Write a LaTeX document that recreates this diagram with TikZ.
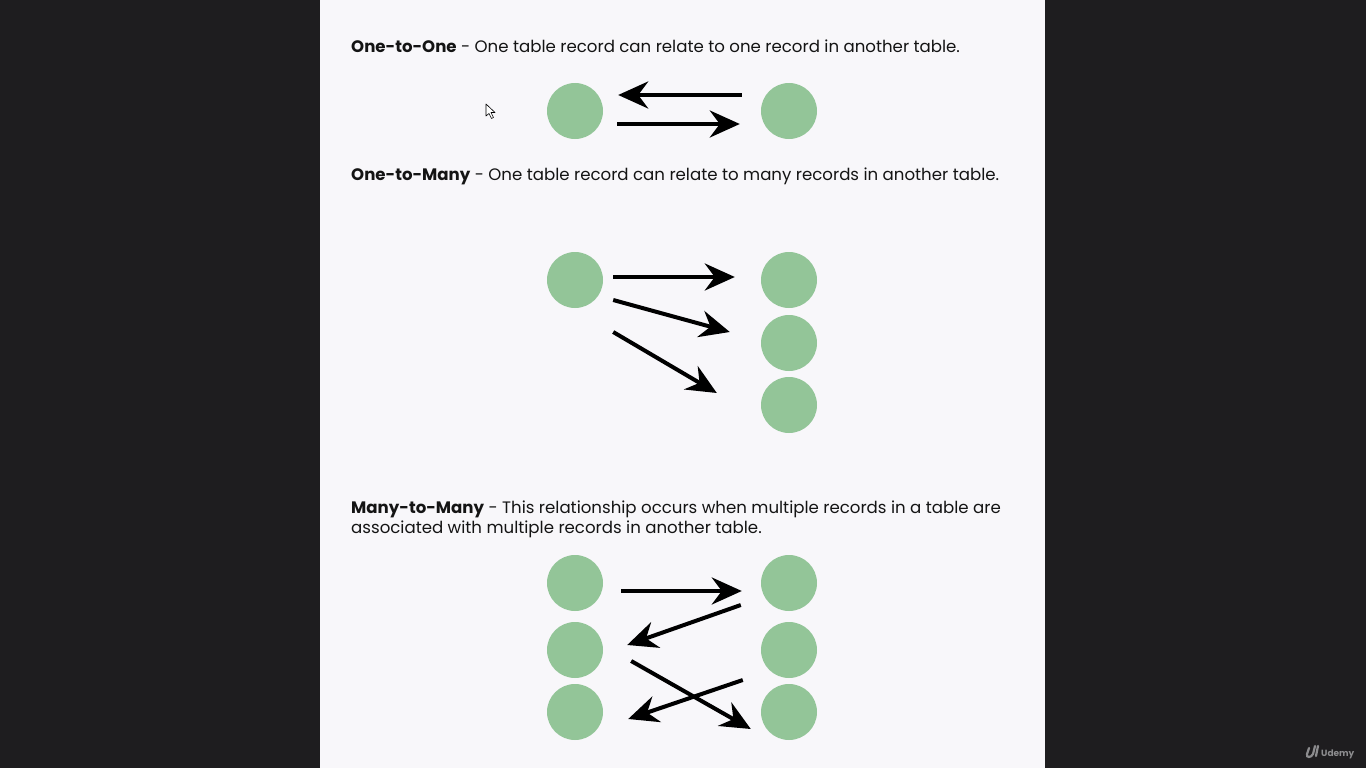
\documentclass[tikz,border=0pt]{standalone}
\usepackage{fontspec}
\setmainfont{Poppins}
\usetikzlibrary{arrows.meta,calc}
\definecolor{screenbg}{HTML}{1E1D1F}
\definecolor{pagebg}{HTML}{F8F7FA}
\definecolor{recgreen}{HTML}{93C598}
\definecolor{logogray}{HTML}{8C8C8E}
\begin{document}
\begin{tikzpicture}[x=1pt,y=-1pt,
  record/.style={circle, fill=recgreen, minimum size=56pt, inner sep=0pt},
  rel/.style={line width=4pt, -{Stealth[length=30pt,width=27pt,inset=10pt]}},
  heading/.style={anchor=base west, inner sep=0pt, text=black!92,
    font=\fontsize{16.6}{20}\selectfont}]
  % Screen and page
  \fill[screenbg] (0,0) rectangle (1366,768);
  \fill[pagebg] (320,0) rectangle (1045,768);
  \useasboundingbox (0,0) rectangle (1366,768);

  % One-to-One
  \node[heading] (oneone) at (351,53) {\textbf{One-to-One} - One table record can relate to one record in another table.};
  \node[record] (ooleft) at (575,111) {};
  \node[record] (ooright) at (789,111) {};
  \draw[rel] ($(ooright.west)+(-19,-16)$) -- ($(ooleft.east)+(15,-16)$);
  \draw[rel] ($(ooleft.east)+(14,13)$) -- ($(ooright.west)+(-21,13)$);

  % One-to-Many
  \node[heading] (onemany) at (351,180) {\textbf{One-to-Many} - One table record can relate to many records in another table.};
  \node[record] (omleft) at (575,280) {};
  \foreach \name/\y in {omra/280, omrb/343, omrc/405}
    \node[record] (\name) at (789,\y) {};
  \draw[rel] ($(omleft.east)+(10,-3)$) -- ($(omra.west)+(-26,-3)$);
  \draw[rel] ($(omleft.east)+(10,20)$) -- ($(omra.west)+(-31,52)$);
  \draw[rel] ($(omleft.east)+(10,52)$) -- ($(omra.west)+(-44,113)$);

  % Many-to-Many
  \node[heading] (manymany) at (351,513.5) {\textbf{Many-to-Many} - This relationship occurs when multiple records in a table are};
  \node[heading] (manymanyb) at (351,533) {associated with multiple records in another table.};
  \foreach \name/\x/\y in {mmla/575/583, mmlb/575/650, mmlc/575/712,
                           mmra/789/583, mmrb/789/650, mmrc/789/712}
    \node[record] (\name) at (\x,\y) {};
  \draw[rel] ($(mmla.east)+(18,8)$) -- ($(mmra.west)+(-19,8)$);
  \draw[rel] ($(mmra.west)+(-20,22)$) -- ($(mmlb.east)+(24,-5)$);
  \draw[rel] ($(mmlb.east)+(28,11)$) -- ($(mmrc.west)+(-10,17)$);
  \draw[rel] ($(mmrb.west)+(-18,30)$) -- ($(mmlc.east)+(25,7)$);

  % Mouse pointer
  \draw[black, line width=0.6pt, fill=white, line join=round]
    (486,104) -- (486,116) -- (489,113.5) -- (491.5,118.5) -- (493.5,117.5)
    -- (491,112.5) -- (495,112.5) -- cycle;

  % Udemy mark
  \draw[logogray, line width=2.2pt, line cap=round]
    (1309,748) -- (1307,754) .. controls (1306,758) and (1311,758) .. (1313,754) -- (1315,746);
  \draw[logogray, line width=2.2pt, line cap=round]
    (1318,746) -- (1316,756);
  \node[anchor=base west, inner sep=0pt, text=logogray, font=\fontsize{9}{10}\selectfont\bfseries] (udemy) at (1321,756) {Udemy};
\end{tikzpicture}
\end{document}
